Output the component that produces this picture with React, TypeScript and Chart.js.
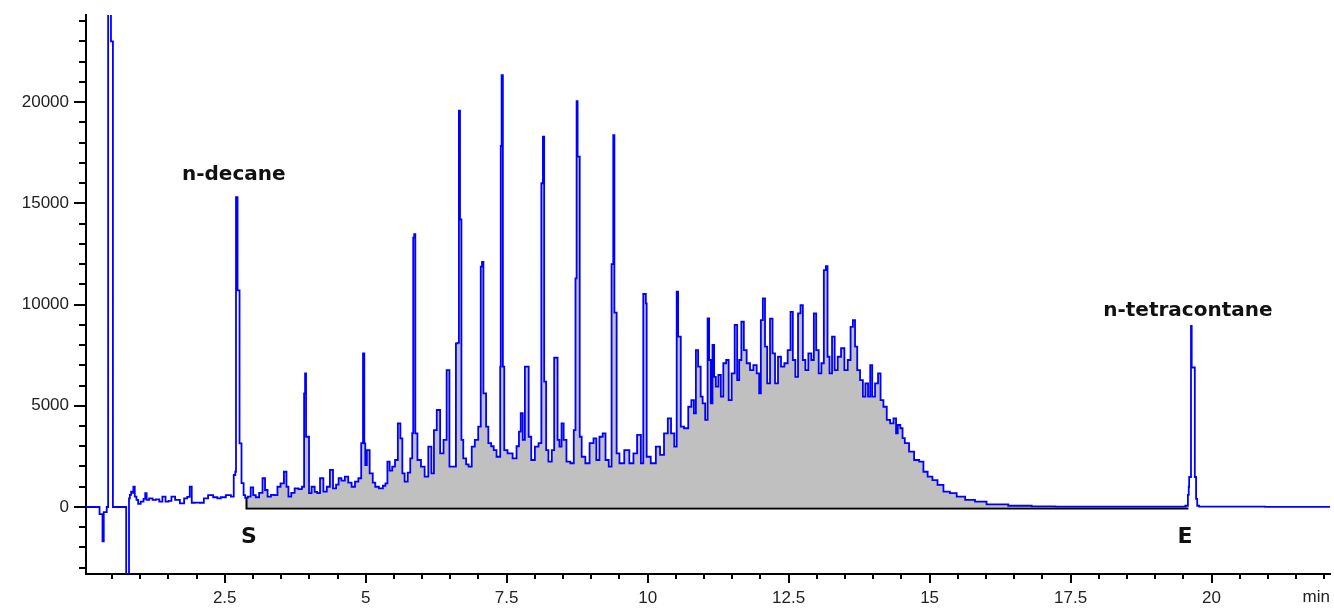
import React, { useEffect, useRef } from 'react';
import { Chart, registerables } from 'chart.js';

Chart.register(...registerables);

// Retention time (min) / detector signal pairs
const earlyTrace: [number, number][] = [
  [0.04, 0], [0.26, 0], [0.30, -350], [0.33, -350], [0.335, -1700], [0.35, -1700], [0.36, -250], [0.40, -250],
  [0.415, 0], [0.43, 0], [0.435, 24500], [0.48, 24500], [0.485, 23000], [0.515, 23000], [0.52, 0], [0.75, 0],
  [0.755, -3400], [0.80, -3400], [0.805, 430], [0.83, 600], [0.85, 760], [0.87, 700], [0.89, 1000], [0.92, 510],
  [0.95, 350], [0.98, 150], [1.04, 260], [1.08, 400], [1.10, 680], [1.13, 350], [1.19, 430], [1.25, 350],
  [1.31, 380], [1.37, 260], [1.42, 510], [1.48, 260], [1.53, 300], [1.58, 510], [1.66, 350], [1.75, 180],
  [1.81, 430], [1.86, 500], [1.90, 1000], [1.93, 210], [2.01, 220], [2.10, 210], [2.16, 430], [2.25, 590],
  [2.34, 480], [2.40, 430], [2.46, 480], [2.58, 590], [2.64, 510], [2.68, 1580], [2.695, 1740], [2.705, 15300],
  [2.72, 15300], [2.735, 10700], [2.76, 10700], [2.765, 3140], [2.795, 3140], [2.80, 1180], [2.83, 1180], [2.84, 590],
];

const resolvedTrace: [number, number][] = [
  [2.886, 450], [2.93, 510], [2.99, 970], [3.02, 590], [3.08, 480], [3.14, 700], [3.20, 1420], [3.23, 840],
  [3.29, 510], [3.35, 600], [3.41, 590], [3.46, 1000], [3.52, 1170], [3.58, 1740], [3.61, 1000], [3.65, 510],
  [3.71, 700], [3.77, 920], [3.84, 880], [3.90, 1000], [3.915, 5610], [3.935, 6600], [3.95, 3470], [3.98, 3470],
  [4.01, 680], [4.07, 1000], [4.12, 750], [4.16, 680], [4.22, 1420], [4.28, 760], [4.34, 1000], [4.39, 1830],
  [4.45, 920], [4.50, 1100], [4.54, 1420], [4.60, 1300], [4.66, 1500], [4.72, 1200], [4.78, 1000], [4.84, 1250],
  [4.90, 1420], [4.94, 3150], [4.965, 7590], [4.985, 3140], [5.00, 2070], [5.04, 2810], [5.10, 1660], [5.15, 1200],
  [5.19, 1000], [5.28, 920], [5.33, 1050], [5.37, 1170], [5.40, 2240], [5.45, 1800], [5.49, 1990], [5.55, 2320],
  [5.59, 4130], [5.64, 3390], [5.66, 1660], [5.72, 1250], [5.77, 1700], [5.81, 2400], [5.84, 3650], [5.845, 13300],
  [5.875, 13480], [5.885, 3640], [5.95, 2320], [6.01, 1990], [6.08, 1500], [6.14, 2980], [6.19, 1660], [6.23, 3800],
  [6.29, 4790], [6.35, 2650], [6.41, 3310], [6.46, 6760], [6.51, 1990], [6.58, 1990], [6.62, 8080], [6.64, 8110],
  [6.665, 19570], [6.68, 14200], [6.695, 14200], [6.70, 3310], [6.76, 2400], [6.80, 2100], [6.85, 1990], [6.91, 2980],
  [6.96, 3310], [7.03, 3970], [7.05, 11870], [7.075, 12110], [7.10, 5610], [7.12, 5610], [7.15, 3970], [7.20, 3150],
  [7.25, 3000], [7.29, 2810], [7.35, 2480], [7.38, 2480], [7.39, 6930], [7.40, 17830], [7.42, 21330], [7.445, 6930],
  [7.47, 2810], [7.56, 2650], [7.65, 2400], [7.70, 3000], [7.735, 3720], [7.764, 4630], [7.806, 3310], [7.84, 6930],
  [7.88, 6930], [7.90, 3470], [7.97, 2320], [8.03, 2980], [8.10, 3150], [8.13, 15990], [8.155, 18290], [8.175, 6190],
  [8.19, 6190], [8.21, 2810], [8.27, 2240], [8.33, 2810], [8.355, 7370], [8.39, 7370], [8.415, 3310], [8.456, 2980],
  [8.49, 4130], [8.53, 3310], [8.59, 2240], [8.67, 2160], [8.71, 3800], [8.73, 11290], [8.75, 20050], [8.765, 17300],
  [8.79, 17300], [8.80, 3470], [8.86, 2480], [8.93, 2160], [9.01, 3150], [9.07, 3390], [9.11, 2320], [9.18, 3470],
  [9.225, 3640], [9.28, 2320], [9.34, 1990], [9.38, 12000], [9.40, 18370], [9.42, 9600], [9.44, 9600], [9.46, 2650],
  [9.54, 2160], [9.63, 2810], [9.72, 2160], [9.775, 2650], [9.85, 3560], [9.91, 2160], [9.935, 10520], [9.96, 10520],
  [9.975, 10060], [9.99, 2480], [10.01, 2480], [10.10, 2160], [10.19, 2980], [10.25, 2570], [10.33, 3640], [10.385, 4380],
  [10.444, 3640], [10.50, 2980], [10.53, 10630], [10.55, 8410], [10.575, 8410], [10.60, 3970], [10.69, 3890], [10.75, 4950],
  [10.80, 5280], [10.84, 4630], [10.87, 7750], [10.92, 6930], [10.96, 5450],
];

const humpTrace: [number, number][] = [
  [10.99, 5120], [11.05, 4300], [11.076, 9320], [11.105, 7260], [11.135, 5120], [11.164, 8000], [11.194, 6430], [11.224, 5940],
  [11.283, 6520], [11.312, 5450], [11.371, 7100], [11.413, 7260], [11.46, 5280], [11.519, 6600], [11.567, 8990], [11.608, 6270],
  [11.638, 7260], [11.685, 9150], [11.726, 7750], [11.785, 7100], [11.845, 6760], [11.904, 7010], [11.963, 6600], [11.992, 5610],
  [12.022, 9230], [12.063, 10300], [12.099, 7920], [12.14, 6110], [12.20, 9300], [12.229, 7590], [12.288, 6110], [12.335, 7420],
  [12.394, 6930], [12.453, 7100], [12.513, 7750], [12.554, 9640], [12.595, 7260], [12.643, 6430], [12.69, 9560], [12.731, 9970],
  [12.773, 7260], [12.82, 6760], [12.879, 7590], [12.926, 7260], [12.968, 9560], [13.009, 7750], [13.057, 6600], [13.104, 7100],
  [13.145, 11700], [13.175, 11900], [13.204, 7420], [13.246, 6600], [13.293, 8410], [13.34, 6760], [13.40, 7420], [13.459, 7840],
  [13.518, 6760], [13.577, 7260], [13.619, 8900], [13.66, 9230], [13.695, 7920], [13.737, 6760], [13.796, 6270], [13.837, 5450],
  [13.885, 6110], [13.932, 5450], [13.961, 7010], [14.003, 5450], [14.062, 6110], [14.109, 6600], [14.151, 5280], [14.21, 4950],
  [14.27, 4300], [14.33, 4130], [14.39, 4380], [14.42, 3640], [14.45, 4050], [14.51, 3890], [14.53, 3400], [14.59, 3150],
  [14.68, 2730], [14.77, 2320], [14.86, 2240], [14.92, 1740], [15.01, 1500], [15.09, 1330], [15.19, 1090], [15.30, 760],
  [15.42, 680], [15.54, 510], [15.72, 350], [15.89, 260], [16.13, 130], [16.66, 60],
];

const lateTrace: [number, number][] = [
  [16.96, 30], [17.5, 20], [18.5, 20], [19.5, 20], [19.57, 60], [19.59, 600], [19.60, 1000], [19.605, 1480],
  [19.63, 1480], [19.64, 8940], [19.655, 6890], [19.70, 6890], [19.705, 1480], [19.72, 1480], [19.73, 400], [19.76, 60],
  [19.80, 20], [22.1, 10],
];

// Integration window (S ... E) and its baseline level
const integrationStart = 2.886;
const integrationEnd = 19.59;
const baselineLevel = -80;

// Axes
const xRange = [0.04, 22.1];
const yRange = [-3310, 24300];
const xMajorTicks = [2.5, 5, 7.5, 10, 12.5, 15, 17.5, 20];
const yMajorTicks = [0, 5000, 10000, 15000, 20000];
const xMinorStep = 0.5;
const yMinorStep = 1000;
const xUnit = 'min';

// Annotations
const peakLabels = ['n-decane', 'n-tetracontane'];
const peakLabelTime = [2.66, 19.58];
const peakLabelLevel = [16400, 9680];
const markerLabels = ['S', 'E'];
const markerTime = [2.93, 19.53];
const markerLevel = [-1480, -1520];

export default function App() {
  const ref = useRef<HTMLCanvasElement>(null);

  useEffect(() => {
    const trace = [...earlyTrace, ...resolvedTrace, ...humpTrace, ...lateTrace].map(([x, y]) => ({ x, y }));
    const integrated = trace.filter((p) => p.x >= integrationStart && p.x <= integrationEnd);
    const baseline = [
      { x: integrationStart, y: integrated[0].y },
      { x: integrationStart, y: baselineLevel },
      { x: integrationEnd, y: baselineLevel },
    ];

    const decorations = {
      id: 'decorations',
      afterDraw(chart: any) {
        const { ctx, chartArea } = chart;
        const xs = chart.scales.x;
        const ys = chart.scales.y;
        ctx.save();
        ctx.strokeStyle = '#000';
        ctx.lineWidth = 2;
        // x tick marks
        for (let k = Math.ceil(xRange[0] / xMinorStep); k * xMinorStep <= xRange[1]; k++) {
          const v = k * xMinorStep;
          const px = Math.round(xs.getPixelForValue(v));
          const major = xMajorTicks.includes(v);
          ctx.beginPath();
          ctx.moveTo(px, chartArea.bottom);
          ctx.lineTo(px, chartArea.bottom + (major ? 9 : 5));
          ctx.stroke();
        }
        // y tick marks
        for (let k = Math.ceil(yRange[0] / yMinorStep); k * yMinorStep <= yRange[1]; k++) {
          const v = k * yMinorStep;
          const py = Math.round(ys.getPixelForValue(v));
          const major = yMajorTicks.includes(v);
          ctx.beginPath();
          ctx.moveTo(chartArea.left, py);
          ctx.lineTo(chartArea.left - (major ? 12 : 7), py);
          ctx.stroke();
        }
        // labels
        ctx.fillStyle = '#111';
        ctx.textAlign = 'center';
        ctx.textBaseline = 'middle';
        ctx.font = 'bold 20px "DejaVu Sans"';
        peakLabels.forEach((t, i) => {
          ctx.fillText(t, xs.getPixelForValue(peakLabelTime[i]), ys.getPixelForValue(peakLabelLevel[i]));
        });
        ctx.font = '600 22px "DejaVu Sans"';
        markerLabels.forEach((t, i) => {
          ctx.fillText(t, xs.getPixelForValue(markerTime[i]), ys.getPixelForValue(markerLevel[i]));
        });
        ctx.restore();
      },
    };

    const tickFont = { family: 'Liberation Sans', size: 17 };

    const chart = new Chart(ref.current as HTMLCanvasElement, {
      type: 'line',
      data: {
        datasets: [
          {
            data: trace,
            borderColor: '#0000ff',
            borderWidth: 1.8,
            pointRadius: 0,
            fill: false,
            stepped: 'middle',
          },
          {
            data: baseline,
            borderColor: '#000000',
            borderWidth: 2,
            pointRadius: 0,
            fill: false,
            tension: 0,
          },
          {
            data: integrated,
            borderColor: 'rgba(0,0,0,0)',
            borderWidth: 1,
            backgroundColor: '#c0c0c0',
            fill: 'origin',
            pointRadius: 0,
            stepped: 'middle',
          },
        ],
      } as any,
      options: {
        animation: false,
        responsive: false,
        devicePixelRatio: 1,
        events: [],
        layout: { padding: { top: 15, right: 4, left: 0, bottom: 0 } },
        plugins: { legend: { display: false }, tooltip: { enabled: false } },
        scales: {
          x: {
            type: 'linear',
            min: xRange[0],
            max: xRange[1],
            grid: { display: false, drawTicks: false },
            border: { display: true, color: '#000', width: 2 },
            ticks: {
              font: tickFont,
              color: '#222',
              padding: 14,
              maxRotation: 0,
              autoSkip: false,
              callback: (v: any) => String(v),
            },
            title: {
              display: true,
              text: xUnit,
              align: 'end',
              color: '#222',
              font: tickFont,
              padding: { top: 0, bottom: 0 },
            },
            afterBuildTicks: (s: any) => {
              s.ticks = xMajorTicks.map((value) => ({ value }));
            },
            afterFit: (s: any) => {
              s.height = 34;
              s.paddingLeft = 0;
              s.paddingRight = 0;
            },
          },
          y: {
            type: 'linear',
            min: yRange[0],
            max: yRange[1],
            grid: { display: false, drawTicks: false },
            border: { display: true, color: '#000', width: 2 },
            ticks: {
              font: tickFont,
              color: '#222',
              padding: 17,
              autoSkip: false,
              callback: (v: any) => String(v),
            },
            afterBuildTicks: (s: any) => {
              s.ticks = yMajorTicks.map((value) => ({ value }));
            },
            afterFit: (s: any) => {
              s.width = 86;
              s.paddingTop = 0;
              s.paddingBottom = 0;
            },
          },
        },
      } as any,
      plugins: [decorations],
    });

    return () => chart.destroy();
  }, []);

  return (
    <div style={{ position: 'absolute', left: 0, top: 0, width: 1334, height: 608, background: '#fff' }}>
      <canvas ref={ref} width={1334} height={608} style={{ display: 'block' }} />
    </div>
  );
}
